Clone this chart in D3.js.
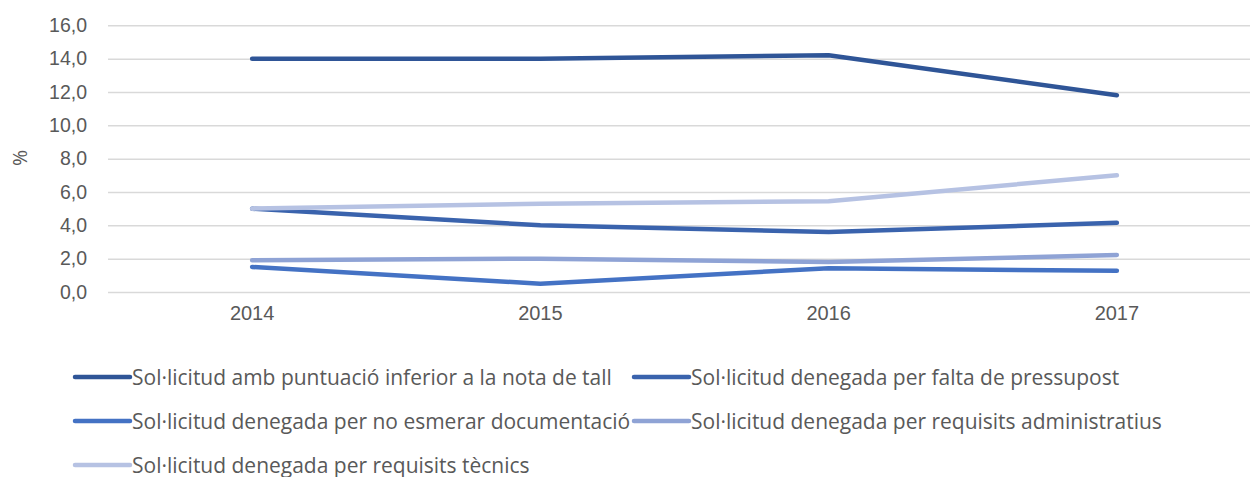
<!DOCTYPE html>
<html>
<head>
<meta charset="utf-8">
<script src="https://cdn.jsdelivr.net/npm/d3@7"></script>
<style>
  body { margin: 0; background: #fff; }
  svg { display: block; font-family: "Open Sans", Lato, sans-serif; }
</style>
</head>
<body>
<svg id="chart" width="1250" height="477"></svg>
<script>
// years on the x axis
var years = ["2014", "2015", "2016", "2017"];

// one array per series (%)
var notaTall = [14.0, 14.0, 14.2, 11.8];
var pressupost = [5.0, 4.0, 3.6, 4.15];
var documentacio = [1.5, 0.5, 1.43, 1.27];
var administratius = [1.9, 2.0, 1.8, 2.22];
var tecnics = [5.0, 5.3, 5.45, 7.0];

var seriesNames = [
    "Sol·licitud amb puntuació inferior a la nota de tall",
    "Sol·licitud denegada per falta de pressupost",
    "Sol·licitud denegada per no esmerar documentació",
    "Sol·licitud denegada per requisits administratius",
    "Sol·licitud denegada per requisits tècnics"
];
var seriesValues = [notaTall, pressupost, documentacio, administratius, tecnics];
var colors = ["#2F5597", "#3A63AD", "#4472C4", "#8FA3D5", "#B6C2E3"];

var yTicks = [0, 2, 4, 6, 8, 10, 12, 14, 16];

var width = 1250;
var svg = d3.select("#chart");

var x = d3.scaleBand()
    .domain(years)
    .range([108, 1261]);

var y = d3.scaleLinear()
    .domain([0, 16])
    .range([292, 25.3]);

var fmt = d3.formatLocale({ decimal: ",", thousands: ".", grouping: [3], currency: ["", "€"] }).format(".1f");

// gridlines + y labels
var yAxis = svg.append("g")
    .attr("transform", "translate(108,0)")
    .call(d3.axisLeft(y).tickValues(yTicks).tickSize(-(width - 108)).tickPadding(21).tickFormat(fmt));
yAxis.select(".domain").remove();
yAxis.selectAll(".tick line")
    .attr("stroke", "#D9D9D9")
    .attr("stroke-width", 1.5);
yAxis.selectAll(".tick text")
    .attr("fill", "#595959")
    .style("font-size", "19.5px")
    .attr("font-family", null);

// x labels
var xAxis = svg.append("g")
    .attr("transform", "translate(0,292)")
    .call(d3.axisBottom(x).tickSize(0).tickPadding(14));
xAxis.select(".domain").remove();
xAxis.selectAll(".tick text")
    .attr("fill", "#595959")
    .style("font-size", "20px")
    .attr("font-family", null);

// y title
svg.append("text")
    .attr("transform", "translate(27,158) rotate(-90)")
    .attr("text-anchor", "middle")
    .attr("fill", "#595959")
    .style("font-size", "19.5px")
    .text("%");

var line = d3.line()
    .x(function(d, i) { return x(years[i]) + x.bandwidth() / 2; })
    .y(function(d) { return y(d); });

for (var i = 0; i < seriesValues.length; i++) {
    svg.append("path")
        .datum(seriesValues[i])
        .attr("d", line)
        .attr("fill", "none")
        .attr("stroke", colors[i])
        .attr("stroke-width", 4.5)
        .attr("stroke-linecap", "round")
        .attr("stroke-linejoin", "round");
}

// legend, two columns
var legendCols = [75, 634];
var legendRows = [377, 421, 465];

var texts = [];
seriesNames.forEach(function(name, i) {
    var lx = legendCols[i % 2];
    var ly = legendRows[Math.floor(i / 2)];
    var g = svg.append("g").attr("transform", "translate(" + lx + "," + ly + ")");
    g.append("line")
        .attr("x1", 0).attr("x2", 55)
        .attr("y1", 0).attr("y2", 0)
        .attr("stroke", colors[i])
        .attr("stroke-width", 4.5)
        .attr("stroke-linecap", "round");
    texts.push(g.append("text")
        .attr("x", 57)
        .attr("dy", "0.36em")
        .attr("fill", "#595959")
        .style("font-size", "18px")
        .text(name));
});

// fit legend font so first entry is about as wide as in the original (~480px)
var w0 = texts[0].node().getComputedTextLength();
var fs = 18 * 480 / w0;
texts.forEach(function(t) { t.style("font-size", fs + "px"); });
</script>
</body>
</html>
